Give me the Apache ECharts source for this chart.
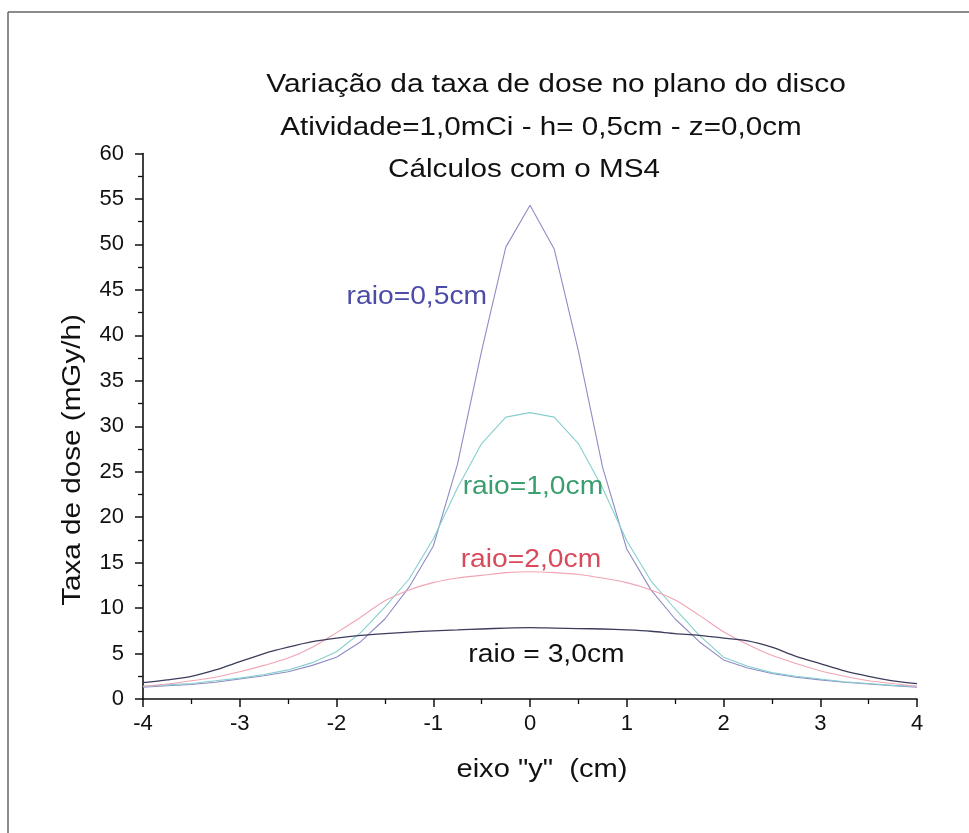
<!DOCTYPE html>
<html>
<head>
<meta charset="utf-8">
<script src="https://cdn.jsdelivr.net/npm/echarts@6/dist/echarts.min.js"></script>
<style>
html,body{margin:0;padding:0;background:#fff;}
#c{width:969px;height:833px;}
</style>
</head>
<body>
<div id="c"></div>
<script>
// eixo "y" (cm)
const xs = [-4,-3.75,-3.5,-3.25,-3,-2.75,-2.5,-2.25,-2,-1.75,-1.5,-1.25,-1,-0.75,-0.5,-0.25,0,0.25,0.5,0.75,1,1.25,1.5,1.75,2,2.25,2.5,2.75,3,3.25,3.5,3.75,4];
// Taxa de dose (mGy/h)
const raio05 = [1.3,1.45,1.6,1.85,2.2,2.55,3.0,3.7,4.6,6.3,8.8,12.3,16.8,25.8,38.3,49.7,54.3,49.5,38.3,25.5,16.5,12.0,8.8,6.3,4.3,3.4,2.8,2.4,2.1,1.85,1.65,1.45,1.3];
const raio10 = [1.4,1.55,1.7,2.0,2.3,2.7,3.2,4.0,5.2,7.3,10.1,13.2,17.6,23.2,28.1,31.0,31.5,31.0,28.1,23.2,17.4,13.0,9.9,7.0,4.6,3.6,2.9,2.5,2.2,1.9,1.7,1.5,1.4];
const raio20 = [1.4,1.65,2.0,2.4,3.0,3.7,4.5,5.7,7.3,9.0,10.8,12.0,12.8,13.3,13.6,13.9,14.0,13.9,13.7,13.3,12.8,12.0,10.9,9.2,7.4,6.0,4.8,3.9,3.1,2.5,2.0,1.7,1.4];
const raio30 = [1.8,2.1,2.5,3.2,4.1,5.0,5.7,6.3,6.7,7.0,7.2,7.35,7.5,7.6,7.7,7.8,7.85,7.8,7.75,7.7,7.6,7.45,7.2,7.0,6.7,6.4,5.7,4.7,3.9,3.1,2.5,2.0,1.7];
const xTicks = [-4,-3,-2,-1,0,1,2,3,4];
const yTicks = [0,5,10,15,20,25,30,35,40,45,50,55,60];
const seriesNames = ['raio=0,5cm','raio=1,0cm','raio=2,0cm','raio = 3,0cm'];
const labelPos = [[-1.17,44.2],[0.03,23.3],[0.01,15.3],[0.17,4.8]];
const titles = ['Variação da taxa de dose no plano do disco','Atividade=1,0mCi - h= 0,5cm - z=0,0cm','Cálculos com o MS4'];
const xName = 'eixo "y"  (cm)';
const yName = 'Taxa de dose (mGy/h)';

const FONT = '"Liberation Sans", Arial, sans-serif';
const lineColors = ['#8e8cc4','#86cfcf','#f0a4b4','#3c3c5c'];
const labelColors = ['#4c4ca8','#3a9e6e','#d84a5c','#111111'];
const dataSets = [raio05, raio10, raio20, raio30];

const chart = echarts.init(document.getElementById('c'), null, {renderer:'canvas'});
const series = dataSets.map((arr, i) => ({
  name: seriesNames[i],
  type: 'line',
  data: xs.map((x, j) => [x, arr[j]]),
  showSymbol: false,
  smooth: i >= 2 ? 0.3 : false,
  lineStyle: {color: lineColors[i], width: i === 3 ? 1.3 : 1.1},
  z: 3
}));

chart.setOption({
  backgroundColor: '#fff',
  animation: false,
  grid: {left: 143, right: 52, top: 153.5, bottom: 134, containLabel: false},
  xAxis: {
    type: 'value', min: -4, max: 4, interval: 1,
    axisLine: {show: true, onZero: false, lineStyle: {color: '#111', width: 1.6}},
    axisTick: {show: true, inside: false, length: 8, lineStyle: {color: '#111', width: 1.5}},
    minorTick: {show: true, splitNumber: 2, length: 5, lineStyle: {color: '#111', width: 1.3}},
    axisLabel: {fontSize: 22, color: '#111', margin: 14, fontFamily: FONT,
      formatter: v => xTicks.indexOf(v) >= 0 ? String(v) : ''},
    splitLine: {show: false}
  },
  yAxis: {
    type: 'value', min: 0, max: 60, interval: 5,
    axisLine: {show: true, onZero: false, lineStyle: {color: '#111', width: 1.6}},
    axisTick: {show: true, inside: false, length: 8, lineStyle: {color: '#111', width: 1.5}},
    minorTick: {show: true, splitNumber: 2, length: 5, lineStyle: {color: '#111', width: 1.3}},
    axisLabel: {fontSize: 22, color: '#111', margin: 19, fontFamily: FONT,
      formatter: v => yTicks.indexOf(v) >= 0 ? String(v) : ''},
    splitLine: {show: false}
  },
  series: series
});

function txt(text, x, y, size, sx, color, rot) {
  return {type: 'text', x: x, y: y, scaleX: sx, scaleY: 1, rotation: rot || 0, z: 10,
    style: {text: text, x: 0, y: 0, textAlign: 'center', textVerticalAlign: 'middle',
      font: size + 'px ' + FONT, fill: color}};
}
const g = [
  {type: 'line', shape: {x1: 8, y1: 12, x2: 969, y2: 12}, style: {stroke: '#666', lineWidth: 1.5}},
  {type: 'line', shape: {x1: 8, y1: 12, x2: 8, y2: 833}, style: {stroke: '#666', lineWidth: 1.5}},
  txt(titles[0], 556, 85, 26, 1.15, '#111'),
  txt(titles[1], 541, 128, 26, 1.14, '#111'),
  txt(titles[2], 524, 170, 26, 1.14, '#111'),
  txt(xName, 542, 770, 26, 1.12, '#111'),
  txt(yName, 73, 460, 26, 1.14, '#111', Math.PI / 2)
];
labelPos.forEach((p, i) => {
  const px = chart.convertToPixel({gridIndex: 0}, p);
  g.push(txt(seriesNames[i], px[0], px[1], 25, 1.13, labelColors[i]));
});
chart.setOption({graphic: g});
</script>
</body>
</html>
